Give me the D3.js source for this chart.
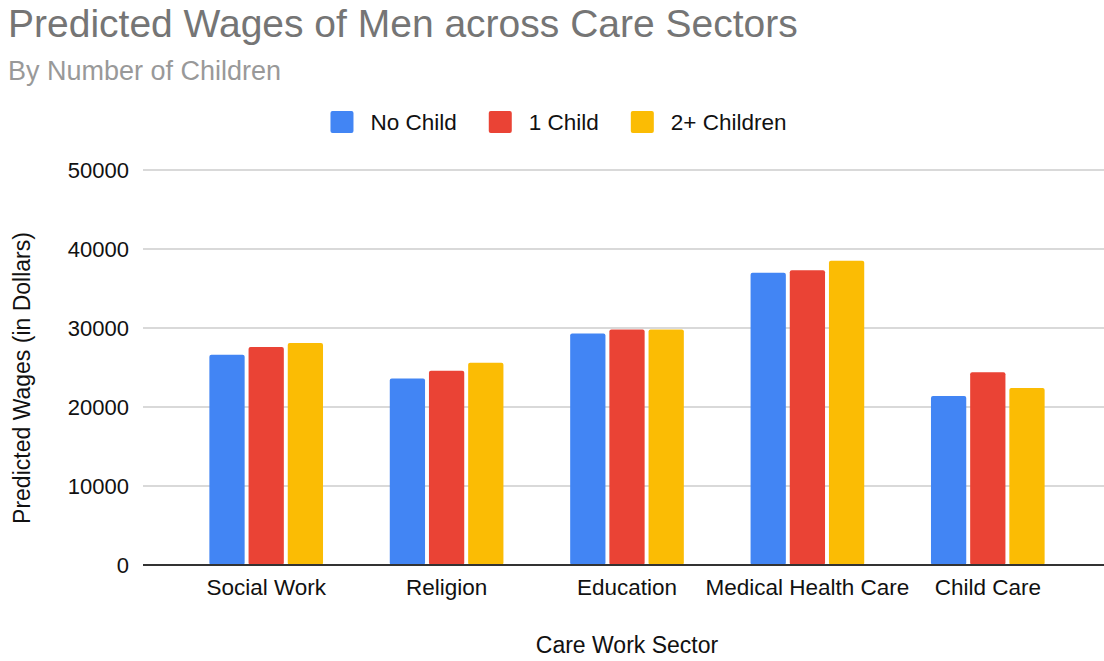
<!DOCTYPE html>
<html>
<head>
<meta charset="utf-8">
<script src="https://cdn.jsdelivr.net/npm/d3@7"></script>
<style>
  body { margin: 0; background: #fff; }
  text { font-family: "Liberation Sans", Arial, sans-serif; }
</style>
</head>
<body>
<div id="chart"></div>
<script>
// data
const sectors = ["Social Work", "Religion", "Education", "Medical Health Care", "Child Care"];
const seriesNames = ["No Child", "1 Child", "2+ Children"];
const noChild = [26600, 23600, 29300, 37000, 21400];
const oneChild = [27600, 24600, 29800, 37300, 24400];
const twoPlus = [28100, 25600, 29800, 38500, 22400];
const yTicks = [0, 10000, 20000, 30000, 40000, 50000];
const colors = ["#4285F4", "#EA4335", "#FBBC04"];

const seriesValues = [noChild, oneChild, twoPlus];
const rows = sectors.map((s, i) => ({
  sector: s,
  values: seriesNames.map((n, j) => ({ key: n, value: seriesValues[j][i] }))
}));

let width = 1104, height = 661;

let svg = d3.select('#chart')
  .append('svg')
  .attr('width', width)
  .attr('height', height);

// scales
let x0 = d3.scaleBand()
  .domain(sectors)
  .range([176, 1078])
  .paddingInner(0.37)
  .paddingOuter(0.185);

let x1 = d3.scaleBand()
  .domain(seriesNames)
  .range([0, x0.bandwidth()])
  .paddingInner(0.1);

let yScale = d3.scaleLinear()
  .domain([0, 50000])
  .range([565, 170]);

const color = d3.scaleOrdinal().domain(seriesNames).range(colors);

// title + subtitle
svg.append('text')
  .attr('x', 8).attr('y', 37)
  .text('Predicted Wages of Men across Care Sectors')
  .style('font-size', '39px')
  .style('fill', '#757575');

svg.append('text')
  .attr('x', 8).attr('y', 80)
  .text('By Number of Children')
  .style('font-size', '27px')
  .style('fill', '#999999');

// gridlines
svg.append('g')
  .selectAll('line')
  .data(yTicks.filter(d => d > 0))
  .enter().append('line')
  .attr('x1', 143).attr('x2', width)
  .attr('y1', d => yScale(d)).attr('y2', d => yScale(d))
  .attr('stroke', '#cccccc')
  .attr('stroke-width', 1.5);

// y axis labels
let yAxis = svg.append('g')
  .attr('transform', 'translate(143,0)')
  .call(d3.axisLeft(yScale).tickValues(yTicks).tickFormat(d3.format('d')).tickSize(0).tickPadding(14));
yAxis.select('.domain').remove();
yAxis.selectAll('text')
  .style('font-size', '22px')
  .style('fill', '#111')
  .style('font-family', '"Liberation Sans", Arial, sans-serif');

// bars
let groups = svg.selectAll('.group')
  .data(rows)
  .enter().append('g')
  .attr('class', 'group')
  .attr('transform', d => `translate(${x0(d.sector)},0)`);

groups.selectAll('rect')
  .data(d => d.values)
  .enter().append('rect')
  .attr('x', d => x1(d.key))
  .attr('y', d => yScale(d.value))
  .attr('width', x1.bandwidth())
  .attr('height', d => yScale(0) - yScale(d.value))
  .attr('rx', 2)
  .attr('fill', d => color(d.key));

// x axis
let xAxis = svg.append('g')
  .attr('transform', `translate(0,${yScale(0)})`)
  .call(d3.axisBottom(x0).tickSize(0).tickPadding(14));
xAxis.select('.domain').remove();
xAxis.selectAll('text')
  .style('font-size', '22.5px')
  .style('fill', '#111')
  .style('font-family', '"Liberation Sans", Arial, sans-serif');

svg.append('line')
  .attr('x1', 143).attr('x2', width)
  .attr('y1', yScale(0)).attr('y2', yScale(0))
  .attr('stroke', '#333')
  .attr('stroke-width', 2);

// axis titles
svg.append('text')
  .attr('x', 627).attr('y', 653)
  .text('Care Work Sector')
  .style('text-anchor', 'middle')
  .style('font-size', '23px')
  .style('fill', '#111');

svg.append('text')
  .attr('transform', 'translate(30,378) rotate(-90)')
  .text('Predicted Wages (in Dollars)')
  .style('text-anchor', 'middle')
  .style('font-size', '23px')
  .style('fill', '#111');

// legend
const legend = svg.append('g');
let lx = 0;
seriesNames.forEach((name, i) => {
  const item = legend.append('g').attr('transform', `translate(${lx},0)`);
  item.append('rect')
    .attr('x', 0).attr('y', 111)
    .attr('width', 23).attr('height', 22)
    .attr('rx', 2)
    .attr('fill', color(name));
  const t = item.append('text')
    .attr('x', 40).attr('y', 122)
    .attr('dy', '0.35em')
    .text(name)
    .style('font-size', '22.5px')
    .style('fill', '#111');
  lx += 40 + t.node().getComputedTextLength() + 32;
});
const legendW = lx - 32;
legend.attr('transform', `translate(${558.5 - legendW / 2},0)`);
</script>
</body>
</html>
